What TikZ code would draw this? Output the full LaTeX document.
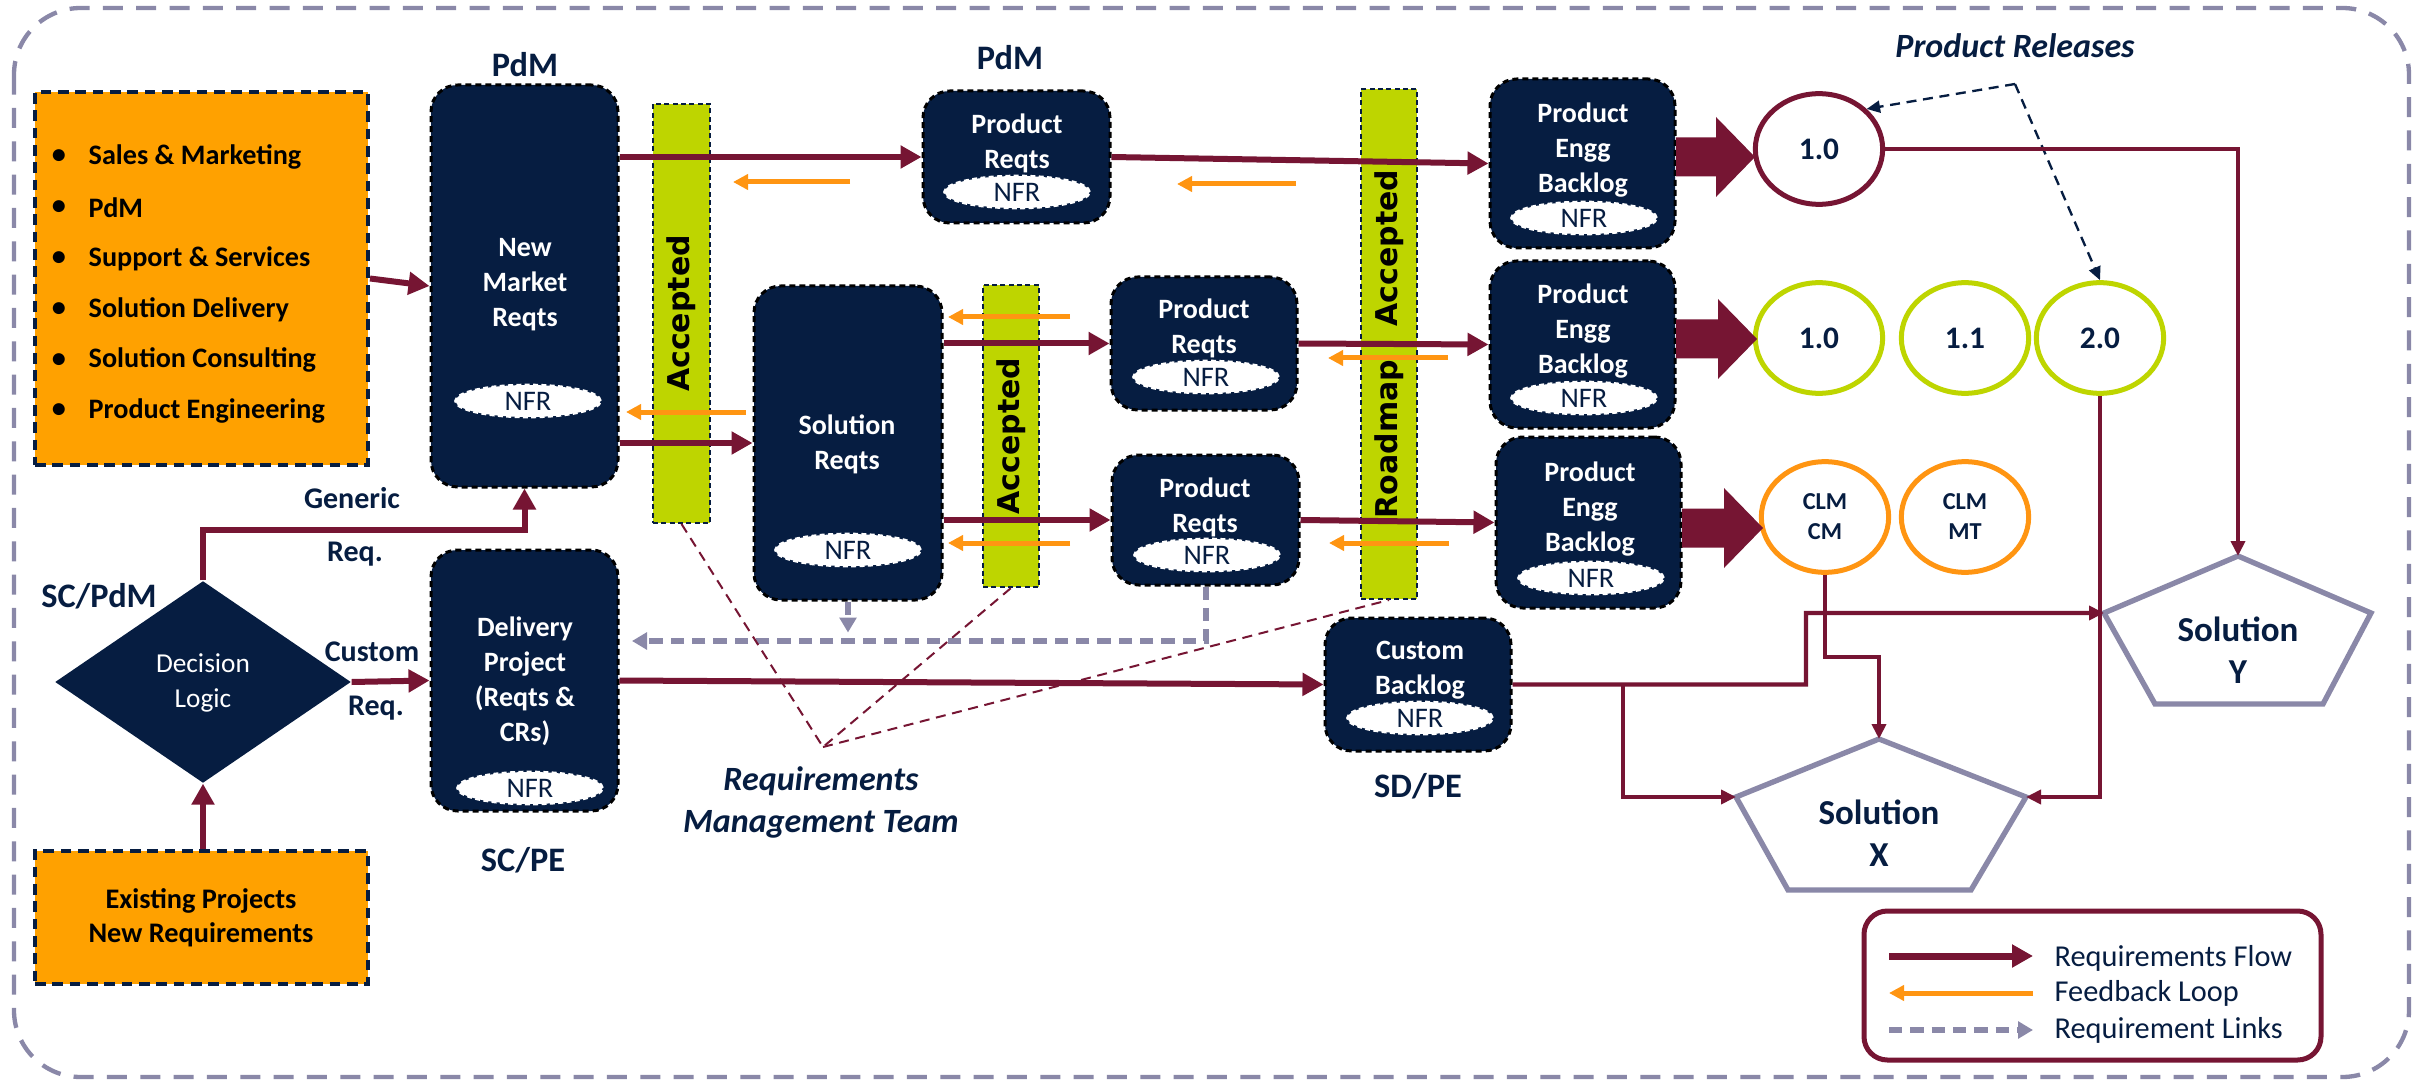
\documentclass[tikz,border=0pt]{standalone}
\usepackage{fontspec}
\setmainfont{Carlito}
\newfontfamily\dvs{DejaVu Sans}
\usetikzlibrary{arrows.meta,shapes.geometric,fit,calc}

\definecolor{cNavy}{HTML}{061D41}
\definecolor{cMaroon}{HTML}{761533}
\definecolor{cOrange}{HTML}{FFA100}
\definecolor{cFeed}{HTML}{FF9512}
\definecolor{cLime}{HTML}{BED500}
\definecolor{cLav}{HTML}{8A88A8}

\newcommand\fatarr[3]{%
  \fill[cMaroon] (#1,#3-19.5) -- (#2-39,#3-19.5) -- (#2-39,#3-40) -- (#2,#3) -- (#2-39,#3+40) -- (#2-39,#3+19.5) -- (#1,#3+19.5) -- cycle;}

\tikzset{
  navybox/.style={fill=cNavy, draw=black, line width=0.9pt, dash pattern=on 1.8pt off 1.2pt, rounded corners=8pt, inner sep=0pt},
  orbox/.style={fill=cOrange, draw=cNavy, line width=1.2pt, dash pattern=on 3.2pt off 2pt, inner sep=0pt},
  limebar/.style={fill=cLime, draw=cNavy, line width=0.6pt, dash pattern=on 1.5pt off 1pt, inner sep=0pt},
  nfrtxt/.style={text=cNavy, font=\fontsize{8.5}{10}\selectfont, inner sep=0pt},
  nfr/.style={ellipse, fill=white, draw=white, line width=0.8pt, dash pattern=on 1.5pt off 1pt, minimum width=43.5pt, minimum height=9.6pt, inner sep=0pt, label={[nfrtxt]center:NFR}},
  boxtxt/.style={text=white, font=\bfseries\fontsize{8.4}{10.5}\selectfont, align=center, inner sep=0pt},
  lbl/.style={text=cNavy, font=\bfseries\fontsize{10.3}{12}\selectfont, inner sep=0pt},
  smlbl/.style={text=cNavy, font=\bfseries\fontsize{9}{11}\selectfont, inner sep=0pt},
  itlbl/.style={text=cNavy, font=\bfseries\itshape\fontsize{10.2}{12.6}\selectfont, align=center, inner sep=0pt},
  listtxt/.style={text=black, font=\bfseries\fontsize{8.46}{10}\selectfont, anchor=west, inner sep=0pt},
  acctxt/.style={rotate=90, text=black, font=\dvs\bfseries\fontsize{9}{10}\selectfont, inner sep=0pt},
  rel/.style={ellipse, draw=#1, line width=1.5pt, fill=white, minimum width=38.2pt, minimum height=33.2pt, inner sep=0pt, text=cNavy, font=\bfseries\fontsize{9.4}{11}\selectfont, align=center},
  clm/.style={font=\bfseries\fontsize{7.3}{9}\selectfont},
  soltxt/.style={text=cNavy, font=\bfseries\fontsize{10.5}{12.6}\selectfont, align=center, inner sep=0pt},
  legtxt/.style={text=cNavy, font=\fontsize{9.1}{11}\selectfont, anchor=west, inner sep=0pt},
  flow/.style={draw=cMaroon, line width=1.8pt, -{Triangle[length=6.3pt,width=6.6pt]}},
  feed/.style={draw=cFeed, line width=1.5pt, -{Triangle[length=4.5pt,width=4.5pt]}},
  relline/.style={draw=cMaroon, line width=1.3pt, -{Triangle[length=4.5pt,width=4.2pt]}},
  link/.style={draw=cLav, line width=1.8pt, dash pattern=on 4pt off 2.4pt, -{Triangle[length=4.5pt,width=5pt]}},
  rmtline/.style={draw=cMaroon, line width=0.6pt, dash pattern=on 3pt off 2pt},
  reldash/.style={draw=cNavy, line width=0.7pt, dash pattern=on 3pt off 2pt, -{Triangle[length=4pt,width=3.6pt]}},
  pent/.style={draw=cLav, line width=1.6pt, fill=white, line join=miter},
}

\begin{document}
\begin{tikzpicture}[x=0.3pt,y=-0.3pt]
\fill[white] (0,0) rectangle (2427,1082);
\useasboundingbox (0,0) rectangle (2427,1082);

% outer frame
\draw[draw=cLav, line width=1.3pt, dash pattern=on 6pt off 4pt, rounded corners=20pt] (14,8) rectangle (2409,1077);

% lime bars
\node[limebar, fit={(653,104)(710,523)}] (a1) {};
\node[acctxt] (a1t) at (a1.center) {Accepted};
\node[limebar, fit={(983,285)(1039,587)}] (a2) {};
\node[acctxt] (a2t) at (a2.center) {Accepted};
\node[limebar, fit={(1361,89)(1417,599)}] (ra) {};
\node[acctxt] (rat) at (ra.center) {Roadmap\hspace{10pt}Accepted};

% orange boxes
\node[orbox, fit={(35,92)(368,465)}] (ob) {};
\foreach \t [count=\i] in {Sales \& Marketing, PdM, Support \& Services, Solution Delivery, Solution Consulting, Product Engineering} {
  \pgfmathsetmacro\yy{157+50.8*(\i-1)}
  \node[listtxt, anchor=center] (bu\i) at (59,\yy) {\textbullet};
  \node[listtxt] (li\i) at (88,\yy) {\t};
}
\node[orbox, fit={(35,851)(368,984)}] (ex) {};
\node[text=black, font=\bfseries\fontsize{8.5}{10.2}\selectfont, align=center, inner sep=0pt] (ext) at (201,918) {Existing Projects\\New Requirements};

% diamond
\node[diamond, fill=cNavy, minimum width=88.8pt, minimum height=60.6pt, inner sep=0pt] (dl) at (203,682) {};
\node[text=white, font=\fontsize{8.2}{10.5}\selectfont, align=center, inner sep=0pt] (dlt) at (203,683) {Decision\\Logic};

% navy boxes
\node[navybox, fit={(431,85)(618,487)}] (nm) {};
\node[boxtxt] (nmt) at (525,285) {New\\Market\\Reqts};
\node[nfr] (nmn) at (528,401) {};

\node[navybox, fit={(431,550)(618,811)}] (dp) {};
\node[boxtxt] (dpt) at (525,681) {Delivery\\Project\\(Reqts \&\\CRs)};
\node[nfr] (dpn) at (530,788) {};

\node[navybox, fit={(923,91)(1110,223)}] (pr1) {};
\node[boxtxt] (pr1t) at (1017,143) {Product\\Reqts};
\node[nfr] (pr1n) at (1017,192) {};

\node[navybox, fit={(754,286)(942,600)}] (sr) {};
\node[boxtxt] (srt) at (847,444) {Solution\\Reqts};
\node[nfr] (srn) at (848,550) {};

\node[navybox, fit={(1111,277)(1297,410)}] (pm) {};
\node[boxtxt] (pmt) at (1204,328) {Product\\Reqts};
\node[nfr] (pmn) at (1206,377) {};

\node[navybox, fit={(1112,455)(1299,585)}] (pl) {};
\node[boxtxt] (plt) at (1205,507) {Product\\Reqts};
\node[nfr] (pln) at (1207,555) {};

\node[navybox, fit={(1490,79)(1675,248)}] (eb1) {};
\node[boxtxt] (eb1t) at (1583,150) {Product\\Engg\\Backlog};
\node[nfr] (eb1n) at (1584,218) {};

\node[navybox, fit={(1490,261)(1675,428)}] (eb2) {};
\node[boxtxt] (eb2t) at (1583,331) {Product\\Engg\\Backlog};
\node[nfr] (eb2n) at (1584,398) {};

\node[navybox, fit={(1496,437)(1681,608)}] (eb3) {};
\node[boxtxt] (eb3t) at (1590,509) {Product\\Engg\\Backlog};
\node[nfr] (eb3n) at (1591,578) {};

\node[navybox, fit={(1325,618)(1511,751)}] (cb) {};
\node[boxtxt] (cbt) at (1420,670) {Custom\\Backlog};
\node[nfr] (cbn) at (1420,718) {};

% releases
\node[rel=cMaroon] (r10) at (1819,149) {1.0};
\node[rel=cLime] (r10b) at (1819,338) {1.0};
\node[rel=cLime] (r11) at (1965,338) {1.1};
\node[rel=cLime] (r20) at (2100,338) {2.0};
\node[rel=cFeed, clm] (rcm) at (1825,517) {CLM\\CM};
\node[rel=cFeed, clm] (rmt) at (1965,517) {CLM\\MT};

% fat arrows
\fatarr{1676}{1755}{157}
\fatarr{1676}{1757}{339}
\fatarr{1682}{1763}{528}

% solutions
\coordinate (syT) at (2238,556);
\coordinate (syR) at (2371,613);
\coordinate (syBR) at (2323,704);
\coordinate (syBL) at (2155,704);
\coordinate (syL) at (2104,613);
\draw[pent] (syT) -- (syR) -- (syBR) -- (syBL) -- (syL) -- cycle;
\node[soltxt] (syt) at (2238,650) {Solution\\Y};
\coordinate (sxT) at (1879,739);
\coordinate (sxR) at (2026,797);
\coordinate (sxBR) at (1971,890);
\coordinate (sxBL) at (1788,890);
\coordinate (sxL) at (1736,797);
\draw[pent] (sxT) -- (sxR) -- (sxBR) -- (sxBL) -- (sxL) -- cycle;
\node[soltxt] (sxt) at (1879,833) {Solution\\X};

% requirement flows
\draw[flow] (ob.east) -- (nm.west);
\draw[flow] (nm.east |- pr1.west) -- (pr1.west);
\draw[flow] (pr1.east) -- (eb1.west);
\draw[flow] (nm.east |- sr.west) -- (sr.west);
\draw[flow] (sr.east |- pm.west) -- (pm.west);
\draw[flow] (pm.east) -- (eb2.west);
\draw[flow] (sr.east |- pl.west) -- (pl.west);
\draw[flow] (pl.east) -- (eb3.west);
\draw[flow] (dl.north) -- ++(0,-50) -| (nm.south);
\draw[flow] (dl.east) -- (dp.west);
\draw[flow] (ex.north -| dl.south) -- (dl.south);
\draw[flow] (dp.east) -- (cb.west);

% feedback loops
\foreach \a/\b/\y [count=\i] in {850/733/182, 1296/1177/184, 746/626/412, 1070/948/317, 1448/1328/358, 1070/948/543, 1449/1329/543} {
  \coordinate (fbs\i) at (\a,\y);
  \coordinate (fbe\i) at (\b,\y);
  \draw[feed] (fbs\i) -- (fbe\i);
}

% requirement links
\coordinate (lk) at (632,641);
\draw[link] (sr.south) -- ++(0,31);
\draw[link] (pl.south) |- (lk);

% requirements management team lines
\coordinate (rmp) at (823,747);
\draw[rmtline] (a1.south) -- (rmp) -- (a2.south);
\draw[rmtline] (rmp) -- (ra.south);

% product releases dashed
\coordinate (prp) at (2015,84);
\draw[reldash] (prp) -- (r10.40);
\draw[reldash] (prp) -- (r20.north);

% release to solutions
\coordinate (j1) at (1806,684.5);
\coordinate (j2) at (1623,684.5);
\draw[relline] (r10.east) -| (syT);
\draw[relline] (r20.south) |- (sxR);
\draw[relline] (rcm.south) -- ++(0,82) -| (sxT);
\draw[relline] (cb.east) -- (j1) |- (syL);
\draw[relline] (j2) |- (sxL);

% labels
\node[lbl] (l1) at (525,65) {PdM};
\node[lbl] (l2) at (1010,58) {PdM};
\node[itlbl] (l3) at (2015,46) {Product Releases};
\node[smlbl] (l4) at (352,498) {Generic};
\node[smlbl] (l5) at (355,554) {Req.};
\node[lbl] (l6) at (99,596) {SC/PdM};
\node[smlbl] (l7) at (372,652) {Custom};
\node[smlbl] (l8) at (376,708) {Req.};
\node[lbl] (l9) at (523,860) {SC/PE};
\node[itlbl] (l10) at (821,802) {Requirements\\Management Team};
\node[lbl] (l11) at (1418,786) {SD/PE};

% legend
\node[draw=cMaroon, line width=1.5pt, rounded corners=7pt, fit={(1864,911)(2321,1060)}, inner sep=0pt] (leg) {};
\coordinate (lg1a) at (1889,956); \coordinate (lg1b) at (2033,956);
\coordinate (lg2a) at (1889,993); \coordinate (lg2b) at (2033,993);
\coordinate (lg3a) at (1889,1030); \coordinate (lg3b) at (2033,1030);
\draw[flow, line width=2.1pt] (lg1a) -- (lg1b);
\draw[feed] (lg2b) -- (lg2a);
\draw[link] (lg3a) -- (lg3b);
\node[legtxt] (lt1) at (2054,958) {Requirements Flow};
\node[legtxt] (lt2) at (2054,993) {Feedback Loop};
\node[legtxt] (lt3) at (2054,1030) {Requirement Links};
\end{tikzpicture}
\end{document}
